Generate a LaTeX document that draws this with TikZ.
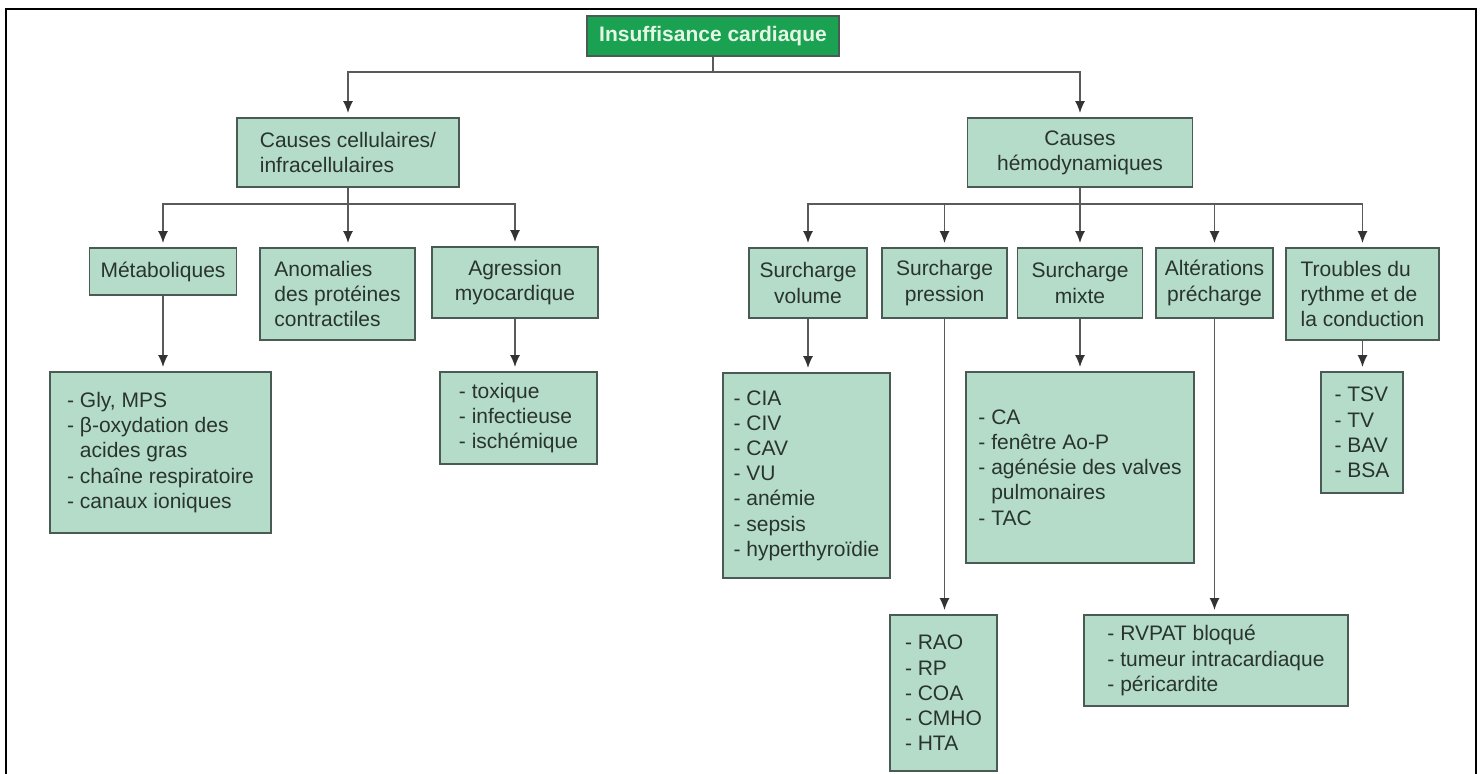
\documentclass[tikz,border=0pt]{standalone}
\usepackage{fontspec}
\setmainfont{Liberation Sans}
\usetikzlibrary{arrows.meta}

\definecolor{boxfill}{HTML}{B4DCC8}
\definecolor{boxline}{HTML}{4A5A55}
\definecolor{boxtext}{HTML}{2A342F}
\definecolor{rootfill}{HTML}{1AA152}
\definecolor{roottext}{HTML}{E4F7E4}
\definecolor{linkcolor}{HTML}{5A5A5A}
\definecolor{tipcolor}{HTML}{333333}

\tikzset{
  box/.style={draw=boxline,line width=0.9pt,fill=boxfill,text=boxtext,
    inner sep=3.5pt,font=\fontsize{10.5pt}{12.6pt}\selectfont},
  rootbox/.style={draw=boxline,line width=0.9pt,fill=rootfill,text=roottext,
    inner sep=3.5pt,font=\bfseries\fontsize{10.5pt}{12.6pt}\selectfont},
  link/.style={draw=linkcolor,line width=0.8pt,
    -{Latex[length=6pt,width=5pt,color=tipcolor]},shorten >=2pt},
}

\begin{document}
\begin{tikzpicture}[x=0.5pt,y=-0.5pt]
\useasboundingbox (0,0) rectangle (1483,774);
\fill [white] (0,0) rectangle (1483,774);
\draw [line width=1pt] (6,774) -- (6,9) -- (1476,9) -- (1476,774);

% niveau 1
\node (root) at (713,36) [rootbox,minimum width=126pt,minimum height=20pt] {Insuffisance cardiaque};
\node (cell) at (348,152.5) [box,align=left,minimum width=111pt,minimum height=34.5pt] {Causes cellulaires/\\infracellulaires};
\node (hemo) at (1080,152.5) [box,align=center,minimum width=112.5pt,minimum height=34.5pt] {Causes\\hémodynamiques};

% causes cellulaires
\node (meta) at (163,271.5) [box,minimum width=73.5pt,minimum height=23.5pt] {Métaboliques};
\node (anom) at (337.5,294) [box,align=left,minimum width=77.5pt,minimum height=46pt] {Anomalies\\des protéines\\contractiles};
\node (agr) at (515,282.5) [box,align=center,minimum width=83pt,minimum height=35.5pt] {Agression\\myocardique};
\node (glyl) at (160.5,452.5) [box,align=left,minimum width=110.5pt,minimum height=80.5pt] {- Gly, MPS\\- β-oxydation des\\\hphantom{- }acides gras\\- chaîne respiratoire\\- canaux ioniques};
\node (toxl) at (518.5,418) [box,align=left,minimum width=78.5pt,minimum height=46pt] {- toxique\\- infectieuse\\- ischémique};

% causes hemodynamiques
\node (vol) at (808,283) [box,align=center,minimum width=59pt,minimum height=35pt] {Surcharge\\volume};
\node (pres) at (944.5,283) [box,align=center,minimum width=62.5pt,minimum height=35pt] {Surcharge\\pression};
\node (mixt) at (1080,283) [box,align=center,minimum width=62.5pt,minimum height=35pt] {Surcharge\\mixte};
\node (alt) at (1214.5,283) [box,align=center,minimum width=58.5pt,minimum height=35pt] {Altérations\\précharge};
\node (trb) at (1362.5,294) [box,align=left,minimum width=76.5pt,minimum height=46pt] {Troubles du\\rythme et de\\la conduction};
\node (voll) at (806.5,475.5) [box,align=left,minimum width=83.5pt,minimum height=102.5pt] {- CIA\\- CIV\\- CAV\\- VU\\- anémie\\- sepsis\\- hyperthyroïdie};
\node (mixl) at (1080,467.5) [box,align=left,minimum width=114pt,minimum height=95.5pt] {- CA\\- fenêtre Ao-P\\- agénésie des valves\\\hphantom{- }pulmonaires\\- TAC};
\node (trbl) at (1362,432.5) [box,align=left,minimum width=41pt,minimum height=60.5pt] {- TSV\\- TV\\- BAV\\- BSA};
\node (presl) at (943.5,693) [box,align=left,minimum width=53.5pt,minimum height=78pt] {- RAO\\- RP\\- COA\\- CMHO\\- HTA};
\node (altl) at (1216,660.5) [box,align=left,minimum width=132pt,minimum height=45.5pt] {- RVPAT bloqué\\- tumeur intracardiaque\\- péricardite};

% liaisons
\draw [link] (root.south) -- ++(0,15) -| (cell.north);
\draw [link] (root.south) -- ++(0,15) -| (hemo.north);

\draw [link] (cell.south) -- ++(0,16) -| (meta.north);
\draw [link] (cell.south) -- (cell.south |- anom.north);
\draw [link] (cell.south) -- ++(0,16) -| (agr.north);
\draw [link] (meta.south) -- (meta.south |- glyl.north);
\draw [link] (agr.south) -- (agr.south |- toxl.north);

\draw [link] (hemo.south) -- ++(0,16) -| (vol.north);
\draw [link] (hemo.south) -- ++(0,16) -| (pres.north);
\draw [link] (hemo.south) -- (mixt.north);
\draw [link] (hemo.south) -- ++(0,16) -| (alt.north);
\draw [link] (hemo.south) -- ++(0,16) -| (trb.north);
\draw [link] (vol.south) -- (vol.south |- voll.north);
\draw [link] (pres.south) -- (pres.south |- presl.north);
\draw [link] (mixt.south) -- (mixl.north);
\draw [link] (alt.south) -- (alt.south |- altl.north);
\draw [link] (trb.south) -- (trb.south |- trbl.north);
\end{tikzpicture}
\end{document}
